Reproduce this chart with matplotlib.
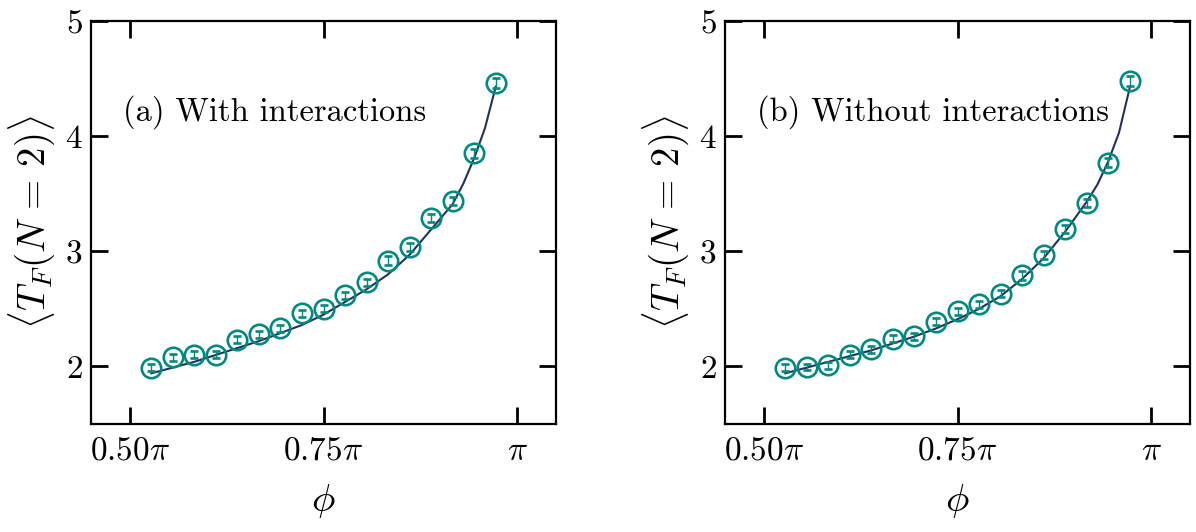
import numpy as np
import matplotlib
matplotlib.use("Agg")
import matplotlib.pyplot as plt

plt.rcParams["mathtext.fontset"] = "cm"
plt.rcParams["font.family"] = "cmr10"
plt.rcParams["axes.formatter.use_mathtext"] = True

# phi in units of pi: 95 deg .. 175 deg in 5 deg steps
phi = np.arange(1, 18) / 36.0 + 0.5

# measured <T_F(N=2)> with error bars
tf_int = [1.99, 2.08, 2.10, 2.10, 2.23, 2.28, 2.33, 2.46, 2.50, 2.62, 2.73,
          2.92, 3.04, 3.29, 3.44, 3.85, 4.46]
err_int = [0.03, 0.03, 0.03, 0.03, 0.03, 0.03, 0.03, 0.03, 0.03, 0.03, 0.03,
           0.035, 0.035, 0.035, 0.035, 0.04, 0.045]
tf_noint = [1.99, 1.995, 2.01, 2.10, 2.15, 2.24, 2.26, 2.39, 2.48, 2.54, 2.63,
            2.79, 2.97, 3.19, 3.42, 3.77, 4.48]
err_noint = [0.03, 0.03, 0.03, 0.03, 0.03, 0.03, 0.03, 0.03, 0.03, 0.03, 0.03,
             0.035, 0.035, 0.035, 0.035, 0.04, 0.045]

# fitted curves, sampled more densely at the steep end
fit_k = [1, 2, 3, 4, 5, 6, 7, 8, 9, 10, 11, 12, 13, 14, 15, 15.5, 16, 16.5, 17]
fit_phi = np.array(fit_k) / 36.0 + 0.5
fit_int = [1.94, 1.99, 2.04, 2.10, 2.16, 2.22, 2.29, 2.36, 2.45, 2.56, 2.67,
           2.80, 2.97, 3.19, 3.41, 3.59, 3.81, 4.07, 4.43]
fit_noint = [1.94, 1.99, 2.04, 2.09, 2.14, 2.20, 2.26, 2.33, 2.41, 2.50, 2.61,
             2.76, 2.94, 3.17, 3.43, 3.58, 3.78, 4.03, 4.42]

labels = ["(a) With interactions", "(b) Without interactions"]
xticks = [0.5, 0.75, 1.0]
xticklabels = [r"$0.50\pi$", r"$0.75\pi$", r"$\pi$"]
yticks = [2, 3, 4, 5]

teal = "#00897e"
navy = "#22325e"

fig = plt.figure(figsize=(11.96, 5.32), dpi=100)
ax_a = fig.add_axes([0.0761, 0.203, 0.3888, 0.7575])
ax_b = fig.add_axes([0.6062, 0.203, 0.3888, 0.7575])

panels = [(ax_a, tf_int, err_int, fit_int, labels[0]),
          (ax_b, tf_noint, err_noint, fit_noint, labels[1])]

for ax, y, e, f, lab in panels:
    ax.plot(fit_phi, f, color=navy, lw=1.5, zorder=2)
    ax.errorbar(phi, y, yerr=e, fmt="o", ms=14, mfc="none", mec=teal,
                mew=1.9, ecolor=teal, elinewidth=1.0, capsize=3.2,
                capthick=1.0, zorder=3)
    ax.set_xlim(0.45, 1.05)
    ax.set_ylim(1.5, 5.0)
    ax.set_xticks(xticks)
    ax.set_xticklabels(xticklabels)
    ax.set_yticks(yticks)
    ax.set_yticklabels([r"$%d$" % t for t in yticks])
    ax.tick_params(direction="in", length=12, width=2, top=True, right=True,
                   labelsize=24)
    ax.tick_params(axis="x", pad=9)
    ax.tick_params(axis="y", pad=6)
    for s in ax.spines.values():
        s.set_linewidth(1.6)
    ax.set_xlabel(r"$\phi$", fontsize=28, labelpad=12)
    ax.set_ylabel(r"$\langle T_F(N\,=\,2)\rangle$", fontsize=28, labelpad=6)
    ax.text(0.069, 0.754, lab, transform=ax.transAxes, fontsize=23.4,
            va="baseline", ha="left")

fig.savefig("out.png", dpi=100)
